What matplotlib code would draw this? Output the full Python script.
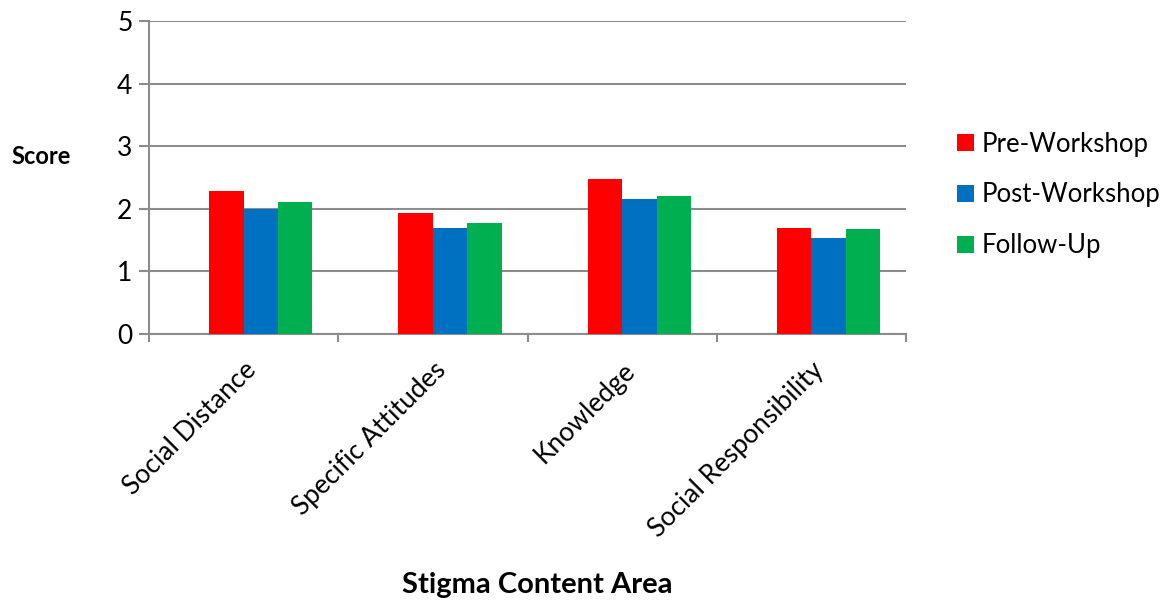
import matplotlib
matplotlib.use("Agg")
import matplotlib.pyplot as plt
import numpy as np

categories = ["Social Distance", "Specific Attitudes", "Knowledge", "Social Responsibility"]
series_names = ["Pre-Workshop", "Post-Workshop", "Follow-Up"]
pre_workshop = [2.28, 1.93, 2.47, 1.70]
post_workshop = [2.00, 1.69, 2.15, 1.53]
follow_up = [2.11, 1.77, 2.20, 1.67]
colors = ["#FF0000", "#0070C0", "#00B050"]
y_ticks = [0, 1, 2, 3, 4, 5]

plt.rcParams['font.family'] = ['Lato', 'DejaVu Sans']

fig = plt.figure(figsize=(11.63, 6.01), dpi=100)
ax = fig.add_axes([149/1163, 1-334/601, (906-149)/1163, (334-21)/601])

x = np.arange(len(categories))
w = 1/5.5
values = [pre_workshop, post_workshop, follow_up]
for i, (name, vals, c) in enumerate(zip(series_names, values, colors)):
    off = (i + 1 - 1.5) * w
    ax.bar(x + off, vals, width=w, color=c, label=name, edgecolor='none', zorder=3)

ax.set_xlim(-0.5, len(categories) - 0.5)
ax.set_ylim(0, 5)
ax.set_yticks(y_ticks)
ax.set_yticklabels([str(v) for v in y_ticks], fontsize=19)
ax.yaxis.grid(True, color='#8c8c8c', linewidth=1.5, zorder=0)
ax.set_axisbelow(True)

ax.set_xticks(x)
ax.set_xticklabels(categories, rotation=45, ha='right', rotation_mode='anchor', fontsize=19)
ax.set_xticks(np.arange(-0.5, len(categories)), minor=True)
ax.tick_params(axis='x', which='major', length=0, pad=17)
ax.tick_params(axis='x', which='minor', length=6, width=1.5, color='#8c8c8c', direction='out')
ax.tick_params(axis='y', length=7, width=1.5, color='#8c8c8c', direction='out', pad=5)

for s in ['top', 'right']:
    ax.spines[s].set_visible(False)
for s in ['left', 'bottom']:
    ax.spines[s].set_color('#8c8c8c')
    ax.spines[s].set_linewidth(1.5)

fig.text(41/1163, 1-156/601, "Score", fontsize=17, fontweight='bold', ha='center', va='center')
fig.text(537/1163, 1-585/601, "Stigma Content Area", fontsize=21, fontweight='bold', ha='center', va='center')

fig.legend(loc='center left', bbox_to_anchor=(944/1163, 1-195/601), frameon=False, fontsize=18.5,
           handlelength=0.65, handleheight=0.65, handletextpad=0.3, labelspacing=1.0, borderpad=0)

fig.savefig("out.png", dpi=100)
